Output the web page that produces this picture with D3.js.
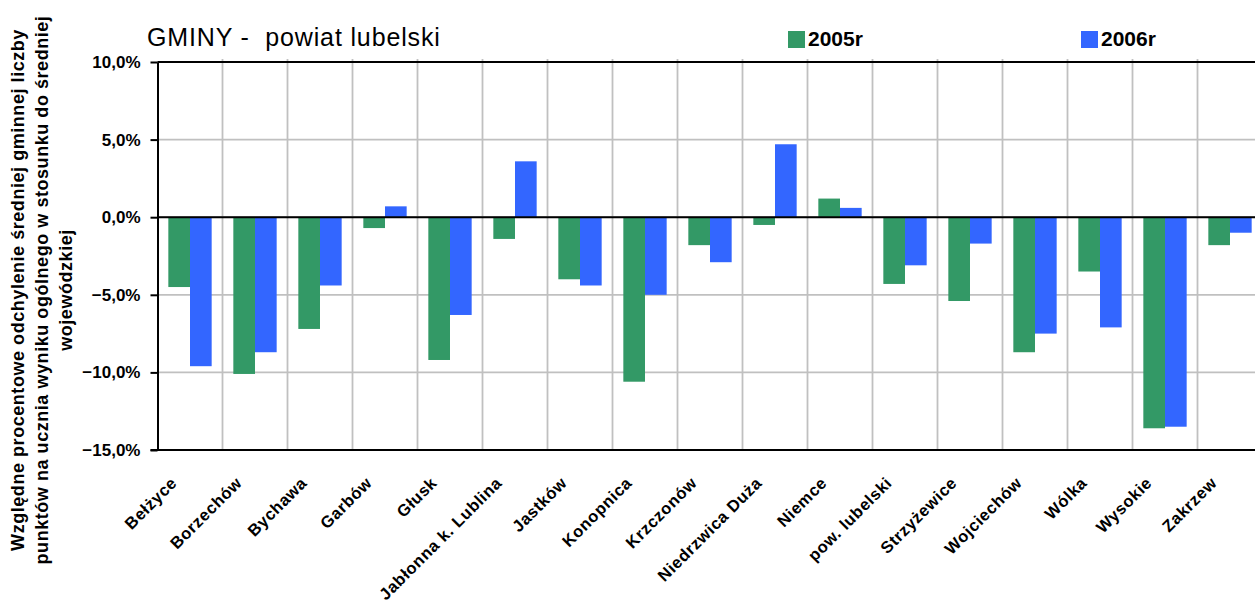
<!DOCTYPE html>
<html>
<head>
<meta charset="utf-8">
<script src="https://cdnjs.cloudflare.com/ajax/libs/d3/7.8.5/d3.min.js"></script>
<style>
    body { margin: 0; background: #fff; }
    text { font-family: "Liberation Sans", Arial, sans-serif; }
</style>
</head>
<body>
<div id="chart"></div>
<script>
// Data
const gminy = ["Bełżyce", "Borzechów", "Bychawa", "Garbów", "Głusk", "Jabłonna k. Lublina",
    "Jastków", "Konopnica", "Krzczonów", "Niedrzwica Duża", "Niemce", "pow. lubelski",
    "Strzyżewice", "Wojciechów", "Wólka", "Wysokie", "Zakrzew"];
const years = ["2005r", "2006r"];
const values2005 = [-4.5, -10.1, -7.2, -0.7, -9.2, -1.4, -4.0, -10.6, -1.8, -0.5, 1.2, -4.3, -5.4, -8.7, -3.5, -13.6, -1.8];
const values2006 = [-9.6, -8.7, -4.4, 0.7, -6.3, 3.6, -4.4, -5.0, -2.9, 4.7, 0.6, -3.1, -1.7, -7.5, -7.1, -13.5, -1.0];
const yTicks = [10, 5, 0, -5, -10, -15];

const W = 1255, H = 604;
const plotLeft = 157.5, plotRight = 1262.5, plotTop = 62, plotBottom = 450;

const colors = {"2005r": "#339966", "2006r": "#3366FF"};

const data = gminy.map((g, i) => ({gmina: g, values: [
    {year: "2005r", v: values2005[i]},
    {year: "2006r", v: values2006[i]}
]}));

const svg = d3.select("#chart").append("svg")
    .attr("width", W)
    .attr("height", H);

// scales
const x0 = d3.scaleBand()
    .domain(gminy)
    .range([plotLeft, plotRight])
    .padding(0);

const x1 = d3.scaleBand()
    .domain(years)
    .range([0, x0.bandwidth()])
    .paddingInner(0)
    .paddingOuter(0.5);

const y = d3.scaleLinear()
    .domain([-15, 10])
    .range([plotBottom, plotTop]);

const pl = d3.formatLocale({decimal: ",", thousands: " ", grouping: [3], currency: ["", " zł"]});
const fmt = v => pl.format(".1f")(v) + "%";

// horizontal grid
svg.append("g")
    .selectAll("line")
    .data(yTicks)
    .join("line")
    .attr("x1", plotLeft)
    .attr("x2", plotRight)
    .attr("y1", d => y(d))
    .attr("y2", d => y(d))
    .attr("stroke", "#c0c0c0")
    .attr("stroke-width", 1.8);

// vertical grid at category boundaries
svg.append("g")
    .selectAll("line")
    .data(gminy.slice(1))
    .join("line")
    .attr("x1", d => x0(d))
    .attr("x2", d => x0(d))
    .attr("y1", plotTop - 3)
    .attr("y2", plotBottom)
    .attr("stroke", "#c0c0c0")
    .attr("stroke-width", 1.8);

// top border
svg.append("line")
    .attr("x1", plotLeft).attr("x2", plotRight)
    .attr("y1", y(10)).attr("y2", y(10))
    .attr("stroke", "#000").attr("stroke-width", 2);

// bars
const groups = svg.selectAll(".grp")
    .data(data)
    .join("g")
    .attr("class", "grp")
    .attr("transform", d => `translate(${x0(d.gmina)},0)`);

groups.selectAll("rect")
    .data(d => d.values)
    .join("rect")
    .attr("x", d => x1(d.year))
    .attr("width", x1.bandwidth())
    .attr("y", d => y(Math.max(0, d.v)))
    .attr("height", d => Math.abs(y(d.v) - y(0)))
    .attr("fill", d => colors[d.year]);

// zero line
svg.append("line")
    .attr("x1", plotLeft).attr("x2", plotRight)
    .attr("y1", y(0)).attr("y2", y(0))
    .attr("stroke", "#000").attr("stroke-width", 2);

// bottom axis line
svg.append("line")
    .attr("x1", plotLeft - 7).attr("x2", plotRight)
    .attr("y1", plotBottom).attr("y2", plotBottom)
    .attr("stroke", "#000").attr("stroke-width", 2);

// y axis
const yAxis = svg.append("g")
    .attr("transform", `translate(${plotLeft},0)`)
    .call(d3.axisLeft(y).tickValues(yTicks).tickFormat(fmt).tickSizeInner(7).tickSizeOuter(0).tickPadding(10));

yAxis.select(".domain").attr("stroke", "#000").attr("stroke-width", 2);
yAxis.selectAll(".tick line").attr("stroke", "#000").attr("stroke-width", 2);
yAxis.selectAll(".tick text")
    .attr("fill", "#000")
    .style("font-family", "'Liberation Sans', Arial, sans-serif")
    .style("font-size", "17px")
    .style("font-weight", "bold");

// x labels
svg.append("g")
    .selectAll("text")
    .data(gminy)
    .join("text")
    .attr("transform", d => `translate(${x0(d) + x0.bandwidth() / 2 - 12},${plotBottom + 34}) rotate(-45)`)
    .attr("text-anchor", "end")
    .style("font-size", "16.5px")
    .style("font-weight", "bold")
    .style("letter-spacing", "0.6px")
    .text(d => d);

// title
svg.append("text")
    .attr("x", 147)
    .attr("y", 46)
    .style("font-size", "25px")
    .style("letter-spacing", "0.85px")
    .style("white-space", "pre")
    .text("GMINY -  powiat lubelski");

// legend
const legendX = [788, 1081];
years.forEach((yr, i) => {
    svg.append("rect")
        .attr("x", legendX[i])
        .attr("y", 31)
        .attr("width", 17)
        .attr("height", 17)
        .attr("fill", colors[yr]);
    svg.append("text")
        .attr("x", legendX[i] + 20)
        .attr("y", 46)
        .style("font-size", "21px")
        .style("font-weight", "bold")
        .text(yr);
});

// y axis title (three lines)
const yTitle = ["Względne procentowe odchylenie średniej gminnej liczby",
    "punktów na ucznia wyniku ogólnego w stosunku do średniej",
    "wojewódzkiej"];
svg.append("text")
    .attr("transform", "translate(24,290) rotate(-90)")
    .attr("text-anchor", "middle")
    .style("font-size", "18px")
    .style("font-weight", "bold")
    .style("letter-spacing", "0.55px")
    .selectAll("tspan")
    .data(yTitle)
    .join("tspan")
    .attr("x", 0)
    .attr("dy", (d, i) => i === 0 ? 0 : 24)
    .text(d => d);
</script>
</body>
</html>
